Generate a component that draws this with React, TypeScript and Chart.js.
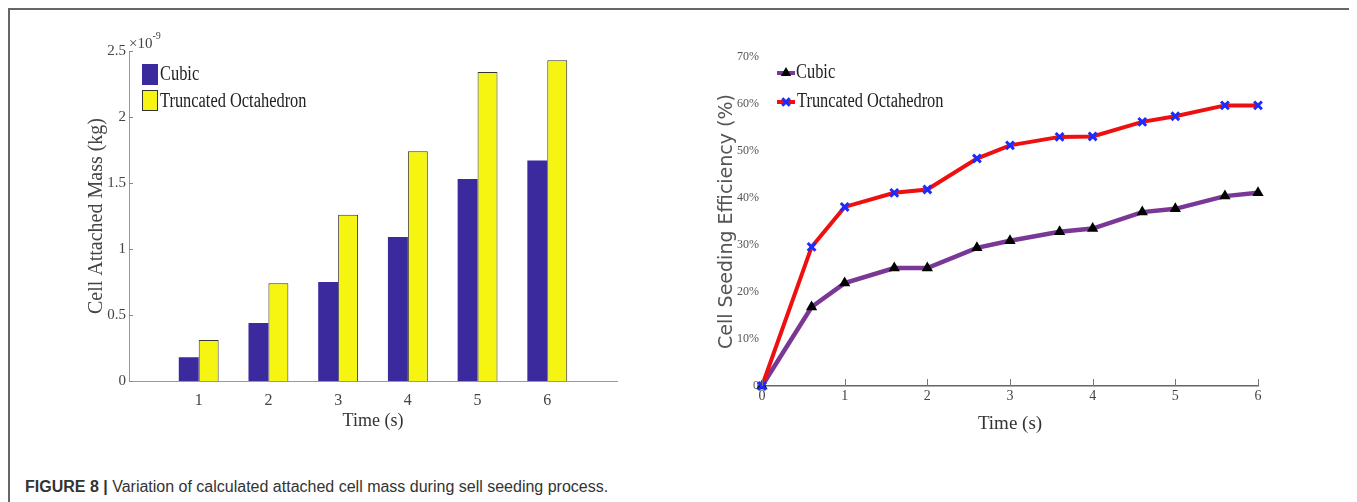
import React, { useEffect, useRef } from "react";
import { Chart, registerables } from "chart.js";

Chart.register(...registerables);

// ---------- Data ----------
// Left chart: cell attached mass, values in units of 1e-9 kg
const barTimes = [1, 2, 3, 4, 5, 6];
const cubicMass = [0.18, 0.44, 0.75, 1.09, 1.53, 1.67];
const octaMass = [0.31, 0.74, 1.26, 1.74, 2.34, 2.43];
const massTickLabels = ["0", "0.5", "1", "1.5", "2", "2.5"];

// Right chart: cell seeding efficiency (%)
const lineTimes = [0, 0.6, 1, 1.6, 2, 2.6, 3, 3.6, 4, 4.6, 5, 5.6, 6];
const cubicEff = [0, 16.8, 21.9, 25.1, 25.1, 29.4, 30.9, 32.8, 33.5, 37.0, 37.7, 40.4, 41.1];
const octaEff = [0, 29.6, 38.1, 41.1, 41.8, 48.4, 51.2, 53.0, 53.1, 56.2, 57.4, 59.7, 59.7];
const effTickLabels = ["0", "10%", "20%", "30%", "40%", "50%", "60%", "70%"];

const seriesNames = ["Cubic", "Truncated Octahedron"];

// ---------- Styles ----------
const SERIF = "'Liberation Serif', 'Times New Roman', serif";
const SANS = "'DejaVu Sans', Verdana, sans-serif";
const BLUE_BAR = "#3a2a9e";
const YELLOW_BAR = "#f6f512";
const PURPLE = "#7b3796";
const RED = "#ee1010";
const MARK_BLUE = "#1a2cff";

function condensedText(ctx: CanvasRenderingContext2D, text: string, x: number, y: number, font: string, sx: number, color: string) {
  ctx.save();
  ctx.font = font;
  ctx.fillStyle = color;
  ctx.textAlign = "left";
  ctx.textBaseline = "middle";
  ctx.translate(x, y);
  ctx.scale(sx, 1);
  ctx.fillText(text, 0, 0);
  ctx.restore();
}

function drawTriangle(ctx: CanvasRenderingContext2D, cx: number, cy: number, r: number) {
  ctx.beginPath();
  ctx.moveTo(cx, cy - r);
  ctx.lineTo(cx + r * 0.866, cy + r * 0.5);
  ctx.lineTo(cx - r * 0.866, cy + r * 0.5);
  ctx.closePath();
  ctx.fillStyle = "#000";
  ctx.fill();
}

function drawCross(ctx: CanvasRenderingContext2D, cx: number, cy: number, r: number) {
  const d = r * 0.75;
  ctx.beginPath();
  ctx.moveTo(cx - d, cy - d);
  ctx.lineTo(cx + d, cy + d);
  ctx.moveTo(cx + d, cy - d);
  ctx.lineTo(cx - d, cy + d);
  ctx.strokeStyle = MARK_BLUE;
  ctx.lineWidth = 3;
  ctx.stroke();
}

const leftDecor = {
  id: "leftDecor",
  afterDraw(chart: any) {
    const { ctx, chartArea, scales } = chart;
    const y = scales.y;
    ctx.save();
    // inward tick marks on the y axis
    ctx.strokeStyle = "#888";
    ctx.lineWidth = 1;
    y.ticks.forEach((t: any) => {
      const py = Math.round(y.getPixelForValue(t.value)) + 0.5;
      ctx.beginPath();
      ctx.moveTo(chartArea.left, py);
      ctx.lineTo(chartArea.left + 4, py);
      ctx.stroke();
    });
    // exponent label
    ctx.fillStyle = "#444";
    ctx.textAlign = "left";
    ctx.textBaseline = "alphabetic";
    ctx.font = `15px ${SERIF}`;
    ctx.fillText("×10", chartArea.left, chartArea.top - 3);
    const w = ctx.measureText("×10").width;
    ctx.font = `10px ${SERIF}`;
    ctx.fillText("-9", chartArea.left + w, chartArea.top - 12);
    // legend
    const sx = chartArea.left + 13;
    ctx.fillStyle = BLUE_BAR;
    ctx.fillRect(sx, chartArea.top + 13, 16, 21);
    ctx.fillStyle = YELLOW_BAR;
    ctx.fillRect(sx, chartArea.top + 39, 16, 21);
    ctx.strokeStyle = "#333";
    ctx.lineWidth = 1;
    ctx.strokeRect(sx + 0.5, chartArea.top + 39.5, 15, 20);
    condensedText(ctx, seriesNames[0], chartArea.left + 31, chartArea.top + 24, `20px ${SERIF}`, 0.82, "#222");
    condensedText(ctx, seriesNames[1], chartArea.left + 31, chartArea.top + 51, `20px ${SERIF}`, 0.82, "#222");
    ctx.restore();
  },
};

const rightDecor = {
  id: "rightDecor",
  afterDraw(chart: any) {
    const { ctx, chartArea, scales } = chart;
    const x = scales.x;
    ctx.save();
    // inward tick marks on x axis
    ctx.strokeStyle = "#777";
    ctx.lineWidth = 1;
    x.ticks.forEach((t: any) => {
      const px = Math.round(x.getPixelForValue(t.value)) + 0.5;
      ctx.beginPath();
      ctx.moveTo(px, chartArea.bottom);
      ctx.lineTo(px, chartArea.bottom - 7);
      ctx.stroke();
    });
    // legend
    const lx0 = chartArea.left + 15;
    const lx1 = chartArea.left + 33;
    const y1 = chartArea.top + 16;
    const y2 = chartArea.top + 45;
    ctx.lineWidth = 4;
    ctx.strokeStyle = PURPLE;
    ctx.beginPath();
    ctx.moveTo(lx0, y1);
    ctx.lineTo(lx1, y1);
    ctx.stroke();
    drawTriangle(ctx, (lx0 + lx1) / 2, y1, 6);
    ctx.strokeStyle = RED;
    ctx.lineWidth = 4;
    ctx.beginPath();
    ctx.moveTo(lx0, y2);
    ctx.lineTo(lx1, y2);
    ctx.stroke();
    drawCross(ctx, (lx0 + lx1) / 2, y2, 5);
    condensedText(ctx, seriesNames[0], lx1 + 1, y1, `20px ${SERIF}`, 0.82, "#222");
    condensedText(ctx, seriesNames[1], lx1 + 2, y2, `20px ${SERIF}`, 0.82, "#222");
    ctx.restore();
  },
};

function LeftChart() {
  const ref = useRef<HTMLCanvasElement>(null);
  useEffect(() => {
    const chart = new Chart(ref.current as HTMLCanvasElement, {
      type: "bar",
      data: {
        datasets: [
          {
            label: seriesNames[0],
            data: barTimes.map((t, i) => ({ x: t, y: cubicMass[i] })),
            backgroundColor: BLUE_BAR,
            borderWidth: 0,
          },
          {
            label: seriesNames[1],
            data: barTimes.map((t, i) => ({ x: t, y: octaMass[i] })),
            backgroundColor: YELLOW_BAR,
            borderColor: "#333",
            borderWidth: 1,
          },
        ],
      } as any,
      options: {
        animation: false,
        responsive: false,
        datasets: { bar: { categoryPercentage: 0.572, barPercentage: 1 } },
        layout: { padding: { left: 0, right: 63, top: 31, bottom: 0 } },
        plugins: { legend: { display: false }, tooltip: { enabled: false } },
        scales: {
          x: {
            type: "linear",
            min: 0,
            max: 7,
            offset: false,
            grid: { display: false, drawTicks: false, offset: false },
            border: { display: true, color: "#999", width: 1 },
            ticks: {
              stepSize: 1,
              padding: 10,
              color: "#444",
              font: { family: SERIF, size: 16 },
              callback: (v: any) => (v >= 1 && v <= 6 ? String(v) : ""),
            },
            title: { display: true, text: "Time (s)", color: "#333", font: { family: SERIF, size: 18 } },
            afterFit: (s: any) => {
              s.height = 55;
            },
          },
          y: {
            min: 0,
            max: 2.5,
            grid: { display: false, drawTicks: false },
            border: { display: true, color: "#999", width: 1 },
            ticks: {
              stepSize: 0.5,
              padding: 3,
              color: "#444",
              font: { family: SERIF, size: 15 },
              callback: (v: any) => massTickLabels[Math.round(Number(v) * 2)] ?? "",
            },
            title: { display: true, text: "Cell Attached Mass (kg)", color: "#444", font: { family: SERIF, size: 20 } },
            afterFit: (s: any) => {
              s.width = 48;
            },
          },
        },
      } as any,
      plugins: [leftDecor],
    });
    return () => chart.destroy();
  }, []);
  return (
    <canvas
      ref={ref}
      width={599}
      height={416}
      style={{ position: "absolute", left: 73, top: 12, width: 599, height: 416 }}
    />
  );
}

function RightChart() {
  const ref = useRef<HTMLCanvasElement>(null);
  useEffect(() => {
    const chart = new Chart(ref.current as HTMLCanvasElement, {
      type: "line",
      data: {
        datasets: [
          {
            label: seriesNames[1],
            data: lineTimes.map((t, i) => ({ x: t, y: octaEff[i] })),
            borderColor: RED,
            borderWidth: 4,
            tension: 0,
            pointStyle: "crossRot",
            pointRadius: 5.5,
            pointBorderWidth: 3,
            pointBorderColor: MARK_BLUE,
            pointBackgroundColor: MARK_BLUE,
            clip: false,
            order: 0,
          },
          {
            label: seriesNames[0],
            data: lineTimes.map((t, i) => ({ x: t, y: cubicEff[i] })),
            borderColor: PURPLE,
            borderWidth: 4.5,
            tension: 0,
            pointStyle: "triangle",
            pointRadius: 6.5,
            pointBorderWidth: 0,
            pointBorderColor: "#000",
            pointBackgroundColor: "#000",
            clip: false,
            order: 1,
          },
        ],
      } as any,
      options: {
        animation: false,
        responsive: false,
        layout: { padding: { left: 0, right: 42, top: 37, bottom: 0 } },
        plugins: { legend: { display: false }, tooltip: { enabled: false } },
        scales: {
          x: {
            type: "linear",
            min: 0,
            max: 6,
            grid: { display: false, drawTicks: false },
            border: { display: true, color: "#666", width: 1.5 },
            ticks: {
              stepSize: 1,
              padding: 2,
              color: "#444",
              font: { family: SERIF, size: 14 },
            },
            title: { display: true, text: "Time (s)", color: "#333", font: { family: SERIF, size: 19 } },
            afterFit: (s: any) => {
              s.height = 53;
            },
          },
          y: {
            min: 0,
            max: 70,
            grid: { display: false, drawTicks: false },
            border: { display: false },
            ticks: {
              stepSize: 10,
              padding: 3,
              color: "#555",
              font: { family: SERIF, size: 12 },
              callback: (v: any) => effTickLabels[Math.round(Number(v) / 10)] ?? "",
            },
            title: { display: true, text: "Cell Seeding Efficiency (%)", color: "#555", font: { family: SANS, size: 19 } },
            afterFit: (s: any) => {
              s.width = 50;
            },
          },
        },
      } as any,
      plugins: [rightDecor],
    });
    return () => chart.destroy();
  }, []);
  return (
    <canvas
      ref={ref}
      width={588}
      height={419}
      style={{ position: "absolute", left: 704, top: 12, width: 588, height: 419 }}
    />
  );
}

export default function App() {
  useEffect(() => {
    document.documentElement.style.overflow = "hidden";
    document.body.style.overflow = "hidden";
  }, []);
  return (
    <div style={{ position: "relative", width: 1349, height: 494, overflow: "hidden", background: "#fff" }}>
      <div
        style={{
          position: "absolute",
          left: 0,
          top: 0,
          width: 1349,
          height: 520,
          boxSizing: "border-box",
          borderTop: "2px solid #666",
          borderLeft: "2px solid #666",
          borderRight: "2px solid #666",
        }}
      />
      <LeftChart />
      <RightChart />
      <div
        style={{
          position: "absolute",
          left: 17,
          top: 470,
          fontFamily: "'Liberation Sans', Arial, sans-serif",
          fontSize: 16,
          color: "#333",
          whiteSpace: "nowrap",
          lineHeight: "18px",
        }}
      >
        <b>FIGURE 8 |</b> Variation of calculated attached cell mass during sell seeding process.
      </div>
    </div>
  );
}
